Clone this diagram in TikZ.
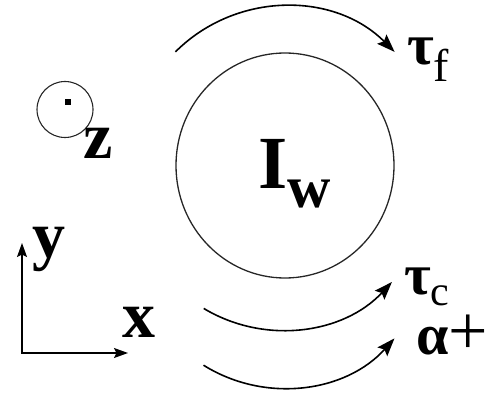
\documentclass[tikz,border=0pt]{standalone}
\usepackage{fontspec}
\setmainfont{Liberation Serif}
\usetikzlibrary{arrows.meta,shapes.geometric}
\begin{document}
\begin{tikzpicture}[x=1pt,y=-1pt,
  torque/.style={line width=1.6pt, -{Stealth[length=18pt,width=13pt,inset=3pt]}},
  axisarrow/.style={line width=1.4pt, {Stealth[length=14pt,width=10pt,inset=2.5pt]}-{Stealth[length=14pt,width=10pt,inset=2.5pt]}},
  lbl/.style={inner sep=0pt, anchor=base west}]
\useasboundingbox (0,0) rectangle (498,393);
% wheel
\node[draw, ellipse, line width=1.3pt, draw=black!85, minimum width=218pt, minimum height=225pt, inner sep=0pt] (wheel) at (285,165.5) {};
\node[lbl] (Iw) at (258,188) {\fontsize{75}{75}\selectfont\bfseries I\raisebox{-19pt}{\fontsize{60}{60}\selectfont w}};
% torque arcs
\coordinate (cf) at (285,161.5);
\draw[torque] (cf) ++(-135:155) arc[start angle=-135, end angle=-45, radius=155];
\coordinate (cc) at (281.5,179);
\draw[torque] (cc) ++(121:151) arc[start angle=121, end angle=43, radius=151];
\coordinate (ca) at (283,238);
\draw[torque] (ca) ++(122:150) arc[start angle=122, end angle=42, radius=150];
\node[lbl] (tf) at (407,65) {\fontsize{58}{58}\selectfont\bfseries τ\raisebox{-17pt}{\mdseries\fontsize{46}{46}\selectfont f}};
\node[lbl] (tc) at (404,294) {\fontsize{58}{58}\selectfont\bfseries τ\raisebox{-11pt}{\mdseries\fontsize{42}{42}\selectfont c}};
\node[lbl] (al) at (416,354) {\fontsize{58}{58}\selectfont\bfseries α\mdseries\fontsize{70}{70}\selectfont+};
% z axis out of page
\node[draw, circle, line width=1.1pt, draw=black!85, minimum size=56pt, inner sep=0pt] (zc) at (65,109.5) {};
\node[fill, inner sep=0pt, minimum size=6pt] (zdot) at (68,102) {};
\node[lbl] (zl) at (83,158) {\fontsize{66}{66}\selectfont\bfseries z};
% x-y axes
\coordinate (o) at (22,353);
\coordinate (ytip) at (22,243);
\coordinate (xtip) at (128,353);
\draw[axisarrow] (ytip) -- (o) -- (xtip);
\node[lbl] (yl) at (32,257) {\fontsize{66}{66}\selectfont\bfseries y};
\node[lbl] (xl) at (122,337) {\fontsize{66}{66}\selectfont\bfseries x};
\end{tikzpicture}
\end{document}
